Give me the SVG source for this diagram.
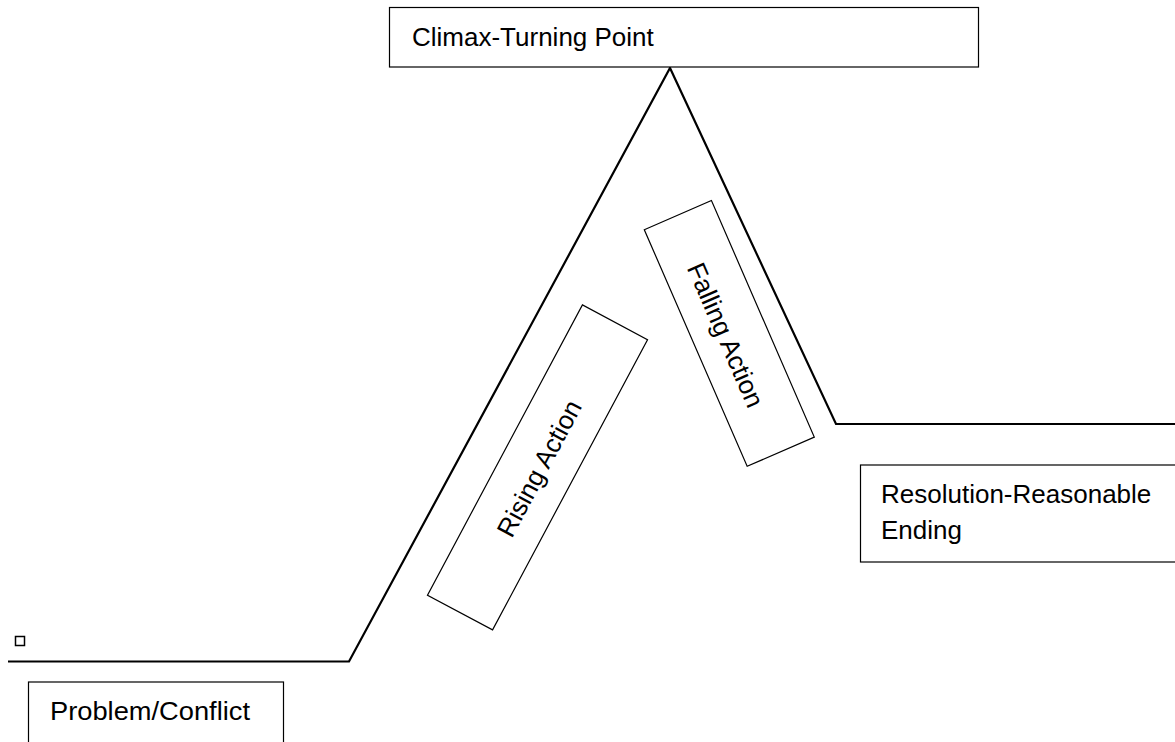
<svg xmlns="http://www.w3.org/2000/svg" width="1175" height="742" viewBox="0 0 1175 742">
  <style>
    .box { fill: #ffffff; stroke: #000000; stroke-width: 1.2; }
    .lbl { font-family: "Liberation Sans", Arial, sans-serif; font-size: 26px; fill: #000000; }
    .plot { fill: none; stroke: #000000; stroke-width: 2.2; stroke-linejoin: miter; }
  </style>
  <rect width="1175" height="742" fill="#ffffff"/>
  <g id="connectors">
    <polyline class="plot" points="8,661.5 349,661.5 670,68 836,424 1175,424"/>
  </g>
  <g id="marker-square">
    <rect x="15.5" y="636.5" width="9" height="9" fill="#ffffff" stroke="#000000" stroke-width="1.5"/>
  </g>
  <g id="climax">
    <rect class="box" x="389.5" y="7.5" width="589" height="59.5"/>
    <text class="lbl" x="412" y="46">Climax-Turning Point</text>
  </g>
  <g id="rising-action" transform="translate(537.5,467.4) rotate(-61.9)">
    <rect class="box" x="-164.5" y="-36.9" width="329" height="73.8"/>
    <text class="lbl" x="0" y="11" text-anchor="middle" font-size="27">Rising Action</text>
  </g>
  <g id="falling-action" transform="translate(729.3,333.4) rotate(66.5)">
    <rect class="box" x="-129" y="-36.6" width="258" height="73.2"/>
    <text class="lbl" x="0" y="13" text-anchor="middle" font-size="27">Falling Action</text>
  </g>
  <g id="resolution">
    <rect class="box" x="860.5" y="465" width="330" height="97"/>
    <text class="lbl" x="881" y="503">Resolution-Reasonable</text>
    <text class="lbl" x="881" y="539">Ending</text>
  </g>
  <g id="problem">
    <rect class="box" x="28.5" y="682" width="255" height="80"/>
    <text class="lbl" x="50" y="720" font-size="27" textLength="200" lengthAdjust="spacingAndGlyphs">Problem/Conflict</text>
  </g>
</svg>
